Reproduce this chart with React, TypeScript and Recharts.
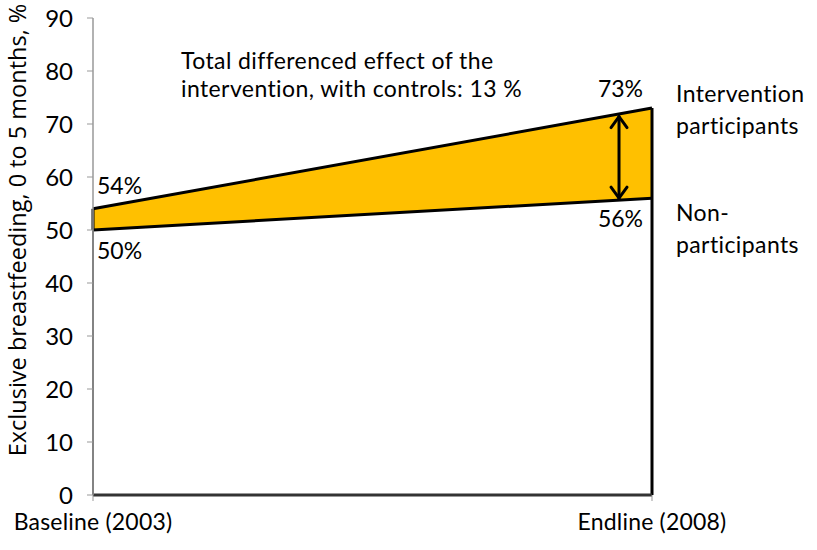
import React from 'react';
import { ComposedChart, Area, Line, XAxis, YAxis, ReferenceLine, LabelList } from 'recharts';

const periods = ['Baseline (2003)', 'Endline (2008)'];
const intervention = [54, 73];
const nonParticipants = [50, 56];
const yTicks = [0, 10, 20, 30, 40, 50, 60, 70, 80, 90];
const seriesNames = [['Intervention', 'participants'], ['Non-', 'participants']];
const annotationLines = ['Total differenced effect of the', 'intervention, with controls: 13 %'];
const yLabel = 'Exclusive breastfeeding, 0 to 5 months, %';
const arrowX = 0.941;
const arrowRange = [71.4, 56];

const data = periods.map((p, i) => ({
  x: i,
  non: nonParticipants[i],
  gap: intervention[i] - nonParticipants[i],
  inter: intervention[i],
}));

const FONT = 'Lato, sans-serif';
const FS = 23;
const LS = 0.4;

const makeLabel = (series: number) => (props: any) => {
  const { x, y, index } = props;
  const vals = series === 0 ? intervention : nonParticipants;
  const v = vals[index];
  const above = series === 0;
  const isEnd = index === 1;
  const tx = isEnd ? x - 9 : x + 4;
  const ty = above ? (isEnd ? y - 20 : y - 24) : y + 20;
  const names = seriesNames[series];
  return (
    <g>
      <text x={tx} y={ty} textAnchor={isEnd ? 'end' : 'start'} dominantBaseline="central" fontFamily={FONT} fontSize={FS} fill="#000">
        {v}%
      </text>
      {isEnd && (
        <g>
          <text x={x + 24} y={above ? y - 15 : y + 14} dominantBaseline="central" fontFamily={FONT} fontSize={FS} letterSpacing={LS} fill="#000">{names[0]}</text>
          <text x={x + 24} y={above ? y + 17 : y + 46} dominantBaseline="central" fontFamily={FONT} fontSize={FS} letterSpacing={LS} fill="#000">{names[1]}</text>
        </g>
      )}
    </g>
  );
};

const ArrowShape = (props: any) => {
  const { x1, y1, x2, y2 } = props;
  const top = Math.min(y1, y2);
  const bot = Math.max(y1, y2);
  const x = x1;
  return (
    <g stroke="#000" strokeWidth={3} fill="none" strokeLinecap="round" strokeLinejoin="round">
      <line x1={x} y1={top} x2={x} y2={bot} />
      <polyline points={`${x - 8},${top + 11} ${x},${top} ${x + 8},${top + 11}`} />
      <polyline points={`${x - 8},${bot - 11} ${x},${bot} ${x + 8},${bot - 11}`} />
    </g>
  );
};

export default function App() {
  return (
    <div style={{ position: 'absolute', left: 0, top: 0, width: 817, height: 550, background: '#fff' }}>
      <ComposedChart width={817} height={550} data={data} margin={{ top: 18, right: 165, bottom: 0, left: 0 }}>
        <XAxis
          dataKey="x"
          type="number"
          domain={[0, 1]}
          ticks={[0, 1]}
          interval={0}
          tickFormatter={(v: number) => periods[v]}
          height={55}
          axisLine={{ stroke: '#333', strokeWidth: 3 }}
          tickLine={{ stroke: '#999' }}
          tickSize={6}
          tickMargin={13}
          tick={{ fill: '#000', fontSize: FS, fontFamily: FONT, letterSpacing: 0.2 }}
        />
        <YAxis
          type="number"
          domain={[0, 90]}
          ticks={yTicks}
          interval={0}
          width={93}
          axisLine={{ stroke: '#999', strokeWidth: 1.5 }}
          tickLine={{ stroke: '#999' }}
          tickSize={6}
          tickMargin={14}
          tick={{ fill: '#000', fontSize: 24, fontFamily: FONT }}
        />
        <Area dataKey="non" stackId="a" type="linear" fill="#fff" fillOpacity={1} stroke="none" isAnimationActive={false} />
        <Area dataKey="gap" stackId="a" type="linear" fill="#FFC000" fillOpacity={1} stroke="none" isAnimationActive={false} />
        <ReferenceLine segment={[{ x: 0, y: 0 }, { x: 0, y: nonParticipants[0] }]} stroke="#444" strokeWidth={2} />
        <ReferenceLine segment={[{ x: 0, y: nonParticipants[0] }, { x: 0, y: intervention[0] }]} stroke="#000" strokeWidth={3} />
        <ReferenceLine segment={[{ x: 1, y: 0 }, { x: 1, y: intervention[1] }]} stroke="#000" strokeWidth={3} />
        <Line dataKey="inter" type="linear" stroke="#000" strokeWidth={3} dot={false} isAnimationActive={false}>
          <LabelList dataKey="inter" content={makeLabel(0)} />
        </Line>
        <Line dataKey="non" type="linear" stroke="#000" strokeWidth={3} dot={false} isAnimationActive={false}>
          <LabelList dataKey="non" content={makeLabel(1)} />
        </Line>
        <ReferenceLine segment={[{ x: arrowX, y: arrowRange[0] }, { x: arrowX, y: arrowRange[1] }]} shape={ArrowShape} />
        <text x={181} y={60} dominantBaseline="central" fontFamily={FONT} fontSize={FS} letterSpacing={LS} fill="#000">{annotationLines[0]}</text>
        <text x={181} y={88} dominantBaseline="central" fontFamily={FONT} fontSize={FS} letterSpacing={LS} fill="#000">{annotationLines[1]}</text>
        <text x={17} y={230} transform="rotate(-90 17 230)" textAnchor="middle" dominantBaseline="central" fontFamily="'Open Sans', sans-serif" fontSize={23.5} fill="#000">{yLabel}</text>
      </ComposedChart>
    </div>
  );
}
